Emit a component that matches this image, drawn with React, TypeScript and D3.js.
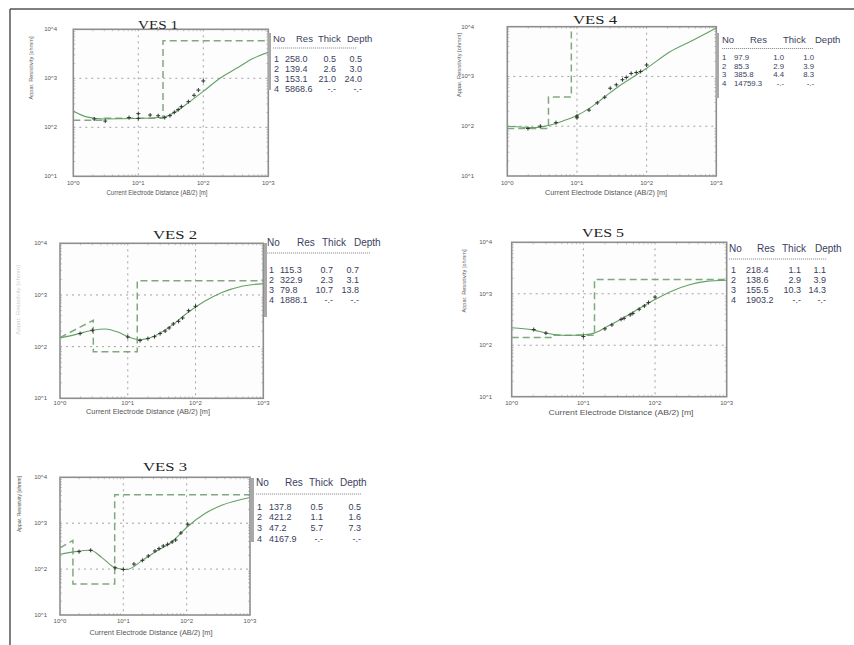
import * as d3 from 'd3';
import React from 'react';

const xDecades = [1, 10, 100, 1000];
const yDecades = [10, 100, 1000, 10000];
const tableHead = ['No', 'Res', 'Thick', 'Depth'];

// VES 1
const ves1Ab = [2.1, 3.1, 7.2, 10, 10, 15.2, 20.2, 25.5, 30.7, 35.8, 41, 46, 59, 72, 84, 100];
const ves1Rho = [148, 134, 158, 190, 152, 178, 172, 158, 173, 202, 229, 264, 334, 450, 575, 883];
const ves1CurveAb = [1, 1.6, 2.9, 9.4, 24, 39, 62, 100, 180, 325, 590, 1000];
const ves1CurveRho = [215, 163, 148, 151, 160, 215, 334, 540, 1000, 1600, 2560, 3400];
const ves1StepAb = [1, 3.0, 3.0, 24.0, 24.0, 1000];
const ves1StepRho = [139.4, 139.4, 153.1, 153.1, 5868.6, 5868.6];
const ves1Res = ['258.0', '139.4', '153.1', '5868.6'];
const ves1Thick = ['0.5', '2.6', '21.0', '-.-'];
const ves1Depth = ['0.5', '3.0', '24.0', '-.-'];

// VES 2
const ves2Ab = [1.98, 3.0, 10, 15.2, 19.8, 24.8, 30, 35.6, 40.8, 47, 56, 64.5, 79, 100];
const ves2Rho = [179, 207, 154, 131, 143, 156, 179, 200, 230, 275, 309, 359, 497, 603];
const ves2CurveAb = [1, 1.67, 3.0, 4.6, 7.3, 10, 15.2, 25.3, 44.7, 79, 136, 245, 485, 1000];
const ves2CurveRho = [147, 171, 207, 220, 189, 156, 137, 163, 258, 468, 753, 1120, 1480, 1660];
const ves2StepAb = [1, 3.1, 3.1, 13.8, 13.8, 1000];
const ves2StepRho = [150, 322.9, 79.8, 79.8, 1888.1, 1888.1];
const ves2Res = ['115.3', '322.9', '79.8', '1888.1'];
const ves2Thick = ['0.7', '2.3', '10.7', '-.-'];
const ves2Depth = ['0.7', '3.1', '13.8', '-.-'];

// VES 3
const ves3Ab = [2.0, 3.05, 7.4, 10, 14.7, 20, 24.8, 31.6, 36.6, 42.7, 50, 59, 67, 81, 104];
const ves3Rho = [240, 257, 107, 98, 129, 155, 193, 248, 279, 319, 346, 390, 431, 613, 950];
const ves3CurveAb = [1, 1.73, 3.05, 4.55, 7.4, 11.3, 20, 31.6, 58, 106, 195, 357, 1000];
const ves3CurveRho = [210, 240, 257, 180, 107, 98, 155, 236, 390, 870, 1630, 2460, 3640];
const ves3StepAb = [1, 1.6, 1.6, 7.3, 7.3, 1000];
const ves3StepRho = [290, 421.2, 47.2, 47.2, 4167.9, 4167.9];
const ves3Res = ['137.8', '421.2', '47.2', '4167.9'];
const ves3Thick = ['0.5', '1.1', '5.7', '-.-'];
const ves3Depth = ['0.5', '1.6', '7.3', '-.-'];

// VES 4
const ves4Ab = [1.98, 2.98, 5, 10, 10, 14.9, 19.6, 25, 30, 36.7, 45, 51, 60, 71, 82, 100];
const ves4Rho = [90, 100, 118, 160, 148, 211, 295, 383, 580, 680, 860, 955, 1150, 1200, 1260, 1700];
const ves4CurveAb = [1, 1.68, 2.6, 4.05, 6.3, 10, 15.2, 23.6, 41, 71, 100, 214, 462, 1000];
const ves4CurveRho = [100, 95.5, 94, 105, 128, 165, 231, 366, 653, 1070, 1460, 3100, 5350, 9400];
const ves4StepAb = [1, 3.9, 3.9, 8.3, 8.3, 1000];
const ves4StepRho = [90, 90, 385.8, 385.8, 14759.3, 14759.3];
const ves4Res = ['97.9', '85.3', '385.8', '14759.3'];
const ves4Thick = ['1.0', '2.9', '4.4', '-.-'];
const ves4Depth = ['1.0', '3.9', '8.3', '-.-'];

// VES 5
const ves5Ab = [2.03, 3.0, 10, 20, 25, 33.6, 37, 45, 49, 60, 71, 81, 100];
const ves5Rho = [202, 172, 148, 208, 248, 318, 333, 390, 415, 500, 580, 675, 863];
const ves5CurveAb = [1, 1.96, 3.36, 5.7, 10, 14.2, 20.7, 35.4, 60, 100, 177, 302, 515, 1000];
const ves5CurveRho = [218, 199, 167, 155, 160, 172, 224, 333, 516, 775, 1150, 1500, 1740, 1830];
const ves5StepAb = [1, 3.9, 3.9, 14.3, 14.3, 1000];
const ves5StepRho = [142, 142, 155.5, 155.5, 1903.2, 1903.2];
const ves5Res = ['218.4', '138.6', '155.5', '1903.2'];
const ves5Thick = ['1.1', '2.9', '10.3', '-.-'];
const ves5Depth = ['1.1', '3.9', '14.3', '-.-'];

const green = '#64a064';
const dashGreen = '#80a880';
const tableInk = '#3b4060';

function Panel(p: any) {
  const x = d3.scaleLog().domain([1, 1000]).range([p.x0, p.x1]);
  const y = d3.scaleLog().domain([10, 10000]).range([p.y1, p.y0]);
  const smooth = d3.line<number[]>().x(d => x(d[0])).y(d => y(d[1])).curve(d3.curveMonotoneX);
  const straight = d3.line<number[]>().x(d => x(d[0])).y(d => y(d[1]));
  const curvePath = smooth(d3.zip(p.curveAb, p.curveRho)) || '';
  const stepPath = straight(d3.zip(p.stepAb, p.stepRho)) || '';
  const pts = d3.zip(p.ab, p.rho);
  const minorX = x.ticks().filter(v => !xDecades.includes(v));
  const minorY = y.ticks().filter(v => !yDecades.includes(v));
  const t = p.table;
  const clip = 'clip-' + p.id;

  return (
    <g>
      <defs>
        <clipPath id={clip}>
          <rect x={p.x0} y={p.y0} width={p.x1 - p.x0} height={p.y1 - p.y0} />
        </clipPath>
      </defs>
      <rect x={p.x0} y={p.y0} width={p.x1 - p.x0} height={p.y1 - p.y0} fill="#fdfdfd" />
      {/* grid */}
      {xDecades.slice(1, -1).map(v => (
        <line key={'gx' + v} x1={x(v)} x2={x(v)} y1={p.y0} y2={p.y1} stroke="#999" strokeWidth={0.9} strokeDasharray="2,4" />
      ))}
      {yDecades.slice(1, -1).map(v => (
        <line key={'gy' + v} x1={p.x0} x2={p.x1} y1={y(v)} y2={y(v)} stroke="#999" strokeWidth={0.9} strokeDasharray="2,4" />
      ))}
      {minorX.map(v => (
        <g key={'mx' + v}>
          <line x1={x(v)} x2={x(v)} y1={p.y1} y2={p.y1 - 2} stroke="#aaa" strokeWidth={0.7} />
          <line x1={x(v)} x2={x(v)} y1={p.y0} y2={p.y0 + 2} stroke="#aaa" strokeWidth={0.7} />
        </g>
      ))}
      {minorY.map(v => (
        <g key={'my' + v}>
          <line x1={p.x0} x2={p.x0 + 2} y1={y(v)} y2={y(v)} stroke="#aaa" strokeWidth={0.7} />
          <line x1={p.x1} x2={p.x1 - 2} y1={y(v)} y2={y(v)} stroke="#aaa" strokeWidth={0.7} />
        </g>
      ))}
      <g clipPath={`url(#${clip})`}>
        <path d={stepPath} fill="none" stroke={dashGreen} strokeWidth={1.5} strokeDasharray="7,4" />
        <path d={curvePath} fill="none" stroke={green} strokeWidth={1.1} />
        {pts.map((d, i) => (
          <path key={'p' + i} d={`M${x(d[0]) - 2},${y(d[1])}h4M${x(d[0])},${y(d[1]) - 2}v4`} stroke="#333" strokeWidth={1} />
        ))}
      </g>
      <rect x={p.x0} y={p.y0} width={p.x1 - p.x0} height={p.y1 - p.y0} fill="none" stroke="#8e8e8e" strokeWidth={1.6} />
      {/* tick labels */}
      {yDecades.map(v => (
        <text key={'ty' + v} x={p.yTickX} y={y(v) + 2} textAnchor="end" fontSize={6} fill="#555" fontFamily="Liberation Sans">
          {`10^${Math.round(Math.log10(v))}`}
        </text>
      ))}
      {xDecades.map(v => (
        <text key={'tx' + v} x={x(v)} y={p.xTickY} textAnchor="middle" fontSize={6} fill="#555" fontFamily="Liberation Sans">
          {`10^${Math.round(Math.log10(v))}`}
        </text>
      ))}
      <text x={p.xLabel[0]} y={p.xLabel[1]} textAnchor="middle" fontSize={6.5} fill="#555" fontFamily="Liberation Sans"
        textLength={p.xLabel[2]} lengthAdjust="spacingAndGlyphs">
        Current Electrode Distance (AB/2) [m]
      </text>
      <text transform={`translate(${p.yLabel[0]},${p.yLabel[1]}) rotate(-90)`} textAnchor="middle" fontSize={6} fill="#555"
        fontFamily="Liberation Sans" textLength={p.yLabel[2]} lengthAdjust="spacingAndGlyphs" opacity={p.yLabel[3]}>
        Appar. Resistivity [ohmm]
      </text>
      {/* title */}
      <text x={p.titleX} y={p.titleY} textAnchor="middle" fontSize={13} fill="#222" fontFamily="Liberation Serif"
        textLength={p.titleLen} lengthAdjust="spacingAndGlyphs">
        {p.title}
      </text>
      {/* layer table */}
      {p.bar && <rect x={p.bar[0]} y={p.bar[1]} width={3} height={p.bar[2] - p.bar[1]} fill="#a8a8a8" />}
      {tableHead.map((h, i) => (
        <text key={'h' + i} x={t.head[i]} y={t.hy} fontSize={t.fs} fill={tableInk} fontFamily="Liberation Sans">{h}</text>
      ))}
      <line x1={t.head[0]} x2={t.head[0] + t.ulen} y1={t.uy} y2={t.uy} stroke="#777" strokeWidth={0.8} strokeDasharray="1.2,0.8" />
      {p.res.map((r: string, i: number) => {
        const yy = t.ry + i * t.step;
        return (
          <g key={'r' + i} fontSize={t.rfs} fill={tableInk} fontFamily="Liberation Sans">
            <text x={t.row[0]} y={yy}>{i + 1}</text>
            <text x={t.row[1]} y={yy}>{r}</text>
            <text x={t.row[2]} y={yy} textAnchor="end">{p.thick[i]}</text>
            <text x={t.row[3]} y={yy} textAnchor="end">{p.depth[i]}</text>
          </g>
        );
      })}
    </g>
  );
}

export default function App() {
  return (
    <svg width={854} height={645} style={{ position: 'absolute', left: 0, top: 0, background: '#fff' }}>
      <line x1={10} x2={854} y1={9} y2={9} stroke="#555" strokeWidth={1.5} />
      <line x1={10} x2={10} y1={9} y2={645} stroke="#555" strokeWidth={1.5} />
      <Panel id="v1" title="VES 1" titleX={158} titleY={29} titleLen={40}
        x0={73.3} x1={268.3} y0={29.3} y1={176.3}
        ab={ves1Ab} rho={ves1Rho} curveAb={ves1CurveAb} curveRho={ves1CurveRho} stepAb={ves1StepAb} stepRho={ves1StepRho}
        res={ves1Res} thick={ves1Thick} depth={ves1Depth}
        yTickX={57} xTickY={185} xLabel={[157, 195, 101]} yLabel={[33, 68, 63, 1]} bar={[268, 33, 90]}
        table={{ head: [273, 296, 318, 347], row: [274, 285, 336, 362], hy: 41.5, ry: 62, step: 10, fs: 9.5, rfs: 9, uy: 48, ulen: 84 }} />
      <Panel id="v4" title="VES 4" titleX={595} titleY={24} titleLen={44}
        x0={507.3} x1={716.3} y0={26.7} y1={176}
        ab={ves4Ab} rho={ves4Rho} curveAb={ves4CurveAb} curveRho={ves4CurveRho} stepAb={ves4StepAb} stepRho={ves4StepRho}
        res={ves4Res} thick={ves4Thick} depth={ves4Depth}
        yTickX={474} xTickY={185} xLabel={[606, 195, 122]} yLabel={[461, 65, 64, 1]} bar={[716, 33, 98]}
        table={{ head: [722, 750, 783, 815], row: [722, 734, 784, 814], hy: 42.5, ry: 60, step: 8.7, fs: 9.5, rfs: 7.8, uy: 48.5, ulen: 91 }} />
      <Panel id="v2" title="VES 2" titleX={175} titleY={239} titleLen={44}
        x0={60} x1={263.3} y0={243.3} y1={398.3}
        ab={ves2Ab} rho={ves2Rho} curveAb={ves2CurveAb} curveRho={ves2CurveRho} stepAb={ves2StepAb} stepRho={ves2StepRho}
        res={ves2Res} thick={ves2Thick} depth={ves2Depth}
        yTickX={47} xTickY={405} xLabel={[148, 413.5, 124]} yLabel={[20, 300, 70, 0.3]} bar={[264, 243, 317]}
        table={{ head: [267, 297, 322, 354], row: [269, 280, 333, 359], hy: 246, ry: 272.5, step: 10.3, fs: 10, rfs: 9, uy: 253, ulen: 103 }} />
      <Panel id="v5" title="VES 5" titleX={603} titleY={237} titleLen={42}
        x0={511.7} x1={726.7} y0={242.3} y1={396.7}
        ab={ves5Ab} rho={ves5Rho} curveAb={ves5CurveAb} curveRho={ves5CurveRho} stepAb={ves5StepAb} stepRho={ves5StepRho}
        res={ves5Res} thick={ves5Thick} depth={ves5Depth}
        yTickX={492} xTickY={405} xLabel={[621, 414.5, 145]} yLabel={[466, 281, 63, 1]} bar={null}
        table={{ head: [729, 757, 782, 815], row: [731, 746, 801, 826], hy: 251.5, ry: 273, step: 10, fs: 10, rfs: 9, uy: 259, ulen: 98 }} />
      <Panel id="v3" title="VES 3" titleX={165} titleY={471} titleLen={44}
        x0={60} x1={250} y0={477.3} y1={615}
        ab={ves3Ab} rho={ves3Rho} curveAb={ves3CurveAb} curveRho={ves3CurveRho} stepAb={ves3StepAb} stepRho={ves3StepRho}
        res={ves3Res} thick={ves3Thick} depth={ves3Depth}
        yTickX={47} xTickY={622.5} xLabel={[151, 635, 123]} yLabel={[21, 504, 56, 1]} bar={[251, 478, 542]}
        table={{ head: [256, 285, 309, 340], row: [257, 269, 323, 361], hy: 485.5, ry: 509.5, step: 10.7, fs: 10, rfs: 9, uy: 494, ulen: 105 }} />
    </svg>
  );
}
